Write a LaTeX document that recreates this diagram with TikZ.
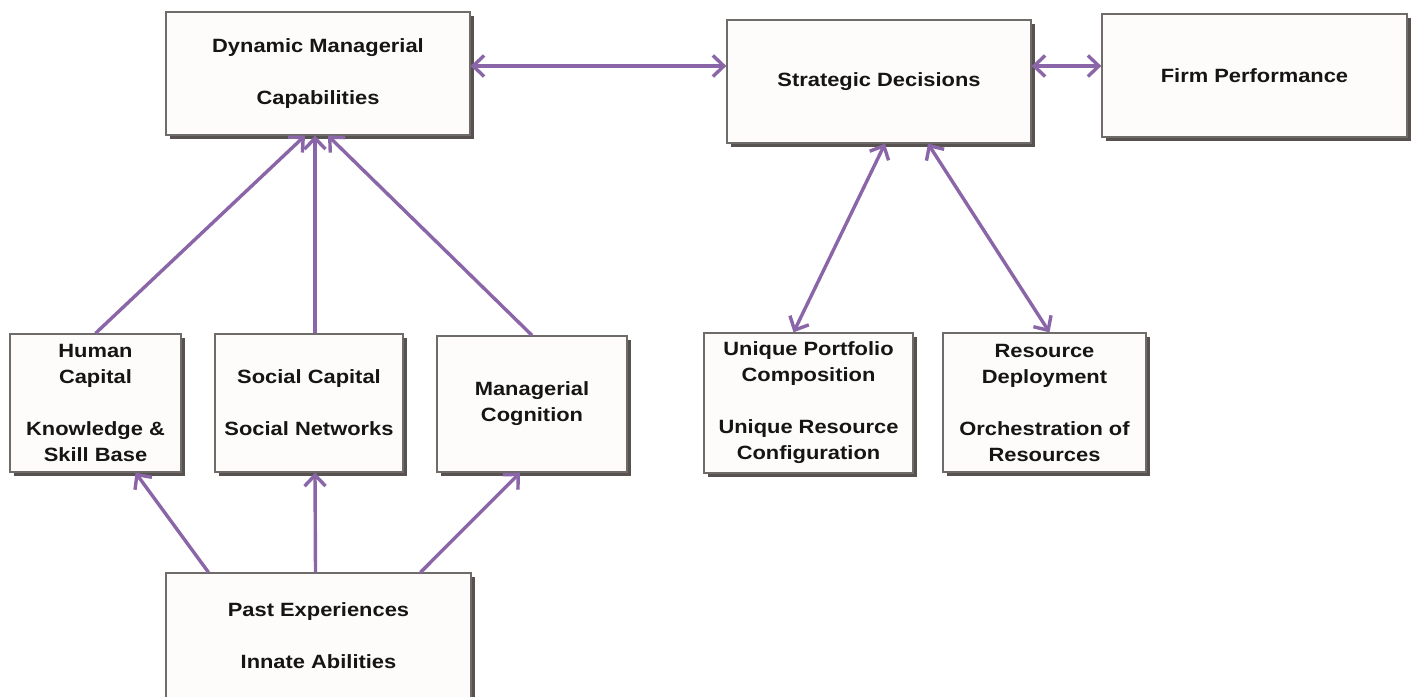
\documentclass[tikz,border=0pt]{standalone}
\usepackage{fontspec}
\setmainfont{Liberation Sans}[FakeStretch=1.14]
\usetikzlibrary{arrows.meta,shadows}
\definecolor{linkpurple}{HTML}{8A66A8}
\definecolor{boxedge}{HTML}{6E6B69}
\definecolor{boxshade}{HTML}{57524F}
\definecolor{boxfill}{HTML}{FDFCFB}
\definecolor{inktext}{HTML}{161414}
\tikzset{
  barb/.tip={Straight Barb[length=11pt,width=21pt,line width=3.4pt]},
  box/.style={draw=boxedge, line width=1.3pt, fill=boxfill, rectangle,
    inner sep=0pt, align=center, text=inktext,
    font=\fontsize{19.2}{26}\selectfont\bfseries,
    drop shadow={shadow xshift=4pt, shadow yshift=-4pt, fill=boxshade, opacity=1}},
  link/.style={draw=linkpurple, line width=3.4pt, -barb},
  twoway/.style={link, barb-barb}
}
\begin{document}
\begin{tikzpicture}[x=1pt,y=-1pt]
\useasboundingbox (0,0) rectangle (1415,696);
\fill[white] (0,0) rectangle (1415,696);

% upper row
\node[box, minimum width=304pt, minimum height=123pt] (dmc) at (318,73.5)
  {Dynamic Managerial\\[26pt]Capabilities};
\node[box, minimum width=304pt, minimum height=123pt] (sd) at (879,81.5)
  {Strategic Decisions};
\node[box, minimum width=305pt, minimum height=123pt] (fp) at (1254.5,75.5)
  {Firm Performance};

% middle row
\node[box, minimum width=171pt, minimum height=138pt] (hc) at (95.5,403)
  {Human\\Capital\\[26pt]Knowledge \&\\Skill Base};
\node[box, minimum width=188pt, minimum height=138pt] (sc) at (309,403)
  {Social Capital\\[26pt]Social Networks};
\node[box, minimum width=190pt, minimum height=136pt] (mc) at (532,404)
  {Managerial\\Cognition};
\node[box, minimum width=209pt, minimum height=140pt] (upc) at (808.5,403)
  {Unique Portfolio\\Composition\\[26pt]Unique Resource\\Configuration};
\node[box, minimum width=203pt, minimum height=139pt] (rd) at (1044.5,402.5)
  {Resource\\Deployment\\[26pt]Orchestration of\\Resources};

% bottom row
\node[box, minimum width=305pt, minimum height=126pt] (pe) at (318.5,636)
  {Past Experiences\\[26pt]Innate Abilities};

% links between decisions and outcomes
\draw[twoway] ([yshift=7.5pt]dmc.east) -- ([yshift=15.5pt]sd.west);
\draw[twoway] ([yshift=15.5pt]sd.east) -- ([yshift=9.5pt]fp.west);
\draw[twoway] ([xshift=6pt]sd.south) -- ([xshift=-15pt]upc.north);
\draw[twoway] ([xshift=49pt]sd.south) -- ([xshift=5pt]rd.north);

% antecedents of managerial capabilities
\draw[link] (hc.north) -- ([xshift=-13pt]dmc.south);
\draw[link] ([xshift=6pt]sc.north) -- ([xshift=-3pt]dmc.south);
\draw[link] (mc.north) -- ([xshift=10pt]dmc.south);

\draw[link] ([xshift=-110pt]pe.north) -- ([xshift=40pt]hc.south);
\draw[link] ([xshift=-3pt]pe.north) -- ([xshift=6pt]sc.south);
\draw[link] ([xshift=102pt]pe.north) -- ([xshift=-12pt]mc.south);
\end{tikzpicture}
\end{document}
